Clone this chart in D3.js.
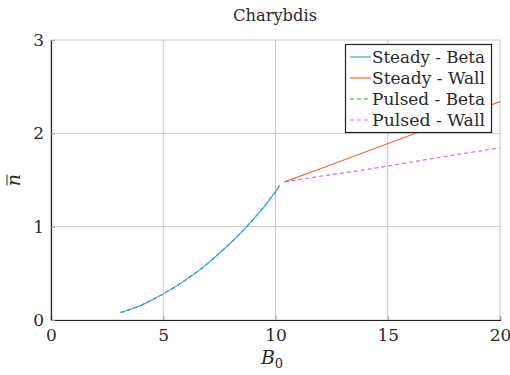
<!DOCTYPE html>
<html><head><meta charset="utf-8">
<script src="https://cdn.jsdelivr.net/npm/d3@7"></script>
<style>body{margin:0;background:#fff;}</style>
</head><body><svg id="c" width="510" height="375"></svg>
<script>
const title = "Charybdis";
const xTicks = [0, 5, 10, 15, 20];
const yTicks = [0, 1, 2, 3];
const seriesNames = ["Steady - Beta", "Steady - Wall", "Pulsed - Beta", "Pulsed - Wall"];
const seriesColors = ["#35a6e0", "#e8673c", "#3a9a3a", "#cc6ee0"];
const seriesDashed = [false, false, true, true];
const betaB = [3.1, 3.5, 4, 4.5, 5, 5.5, 6, 6.5, 7, 7.5, 8, 8.5, 9, 9.5, 10, 10.1];
const betaN = [0.08, 0.11, 0.155, 0.215, 0.28, 0.35, 0.43, 0.515, 0.61, 0.715, 0.825, 0.945, 1.075, 1.215, 1.375, 1.41];
const pulsedBetaB = [3.1, 3.5, 4, 4.5, 5, 5.5, 6, 6.5, 7, 7.5, 8, 8.5, 9, 9.5, 10, 10.1, 10.25];
const pulsedBetaN = [0.08, 0.11, 0.155, 0.215, 0.28, 0.35, 0.43, 0.515, 0.61, 0.715, 0.825, 0.945, 1.075, 1.215, 1.375, 1.41, 1.47];
const wallB = [10.4, 12, 14, 16, 18, 20];
const steadyWallN = [1.48, 1.62, 1.80, 1.98, 2.16, 2.34];
const pulsedWallN = [1.48, 1.54, 1.61, 1.69, 1.77, 1.845];

const FONT = "DejaVu Serif";
const svg = d3.select("#c");
const m = {l: 51, r: 500, t: 40, b: 320};
const x = d3.scaleLinear().domain([0, 20]).range([m.l, m.r]);
const y = d3.scaleLinear().domain([0, 3]).range([m.b, m.t]);

// grid
const g = svg.append("g");
g.selectAll(".gx").data(xTicks).join("line")
  .attr("x1", d => x(d)).attr("x2", d => x(d)).attr("y1", m.t).attr("y2", m.b)
  .attr("stroke", "#c8c8c8").attr("stroke-width", 1);
g.selectAll(".gy").data(yTicks).join("line")
  .attr("y1", d => y(d)).attr("y2", d => y(d)).attr("x1", m.l).attr("x2", m.r)
  .attr("stroke", "#c8c8c8").attr("stroke-width", 1);

// axes
const xa = svg.append("g").attr("transform", `translate(0,${m.b})`)
  .call(d3.axisBottom(x).tickValues(xTicks).tickSize(-4).tickPadding(8).tickFormat(d3.format("d")));
const ya = svg.append("g").attr("transform", `translate(${m.l},0)`)
  .call(d3.axisLeft(y).tickValues(yTicks).tickSize(-4).tickPadding(7).tickFormat(d3.format("d")));
[xa, ya].forEach(a => {
  a.attr("font-family", FONT).attr("font-size", 17);
  a.select(".domain").attr("stroke", "#222").attr("stroke-width", 1.2);
  a.selectAll(".tick line").attr("stroke", "#999");
  a.selectAll("text").attr("fill", "#2a2a2a");
});
xa.selectAll("text").attr("dy", "0.75em");

// lines
const line = d3.line().x(d => x(d[0])).y(d => y(d[1]));
const seriesData = [
  d3.zip(betaB, betaN),
  d3.zip(wallB, steadyWallN),
  d3.zip(pulsedBetaB, pulsedBetaN),
  d3.zip(wallB, pulsedWallN)
];
svg.append("clipPath").attr("id", "clp").append("rect")
  .attr("x", m.l).attr("y", m.t).attr("width", m.r - m.l).attr("height", m.b - m.t);
const drawOrder = [2, 3, 1, 0];
const widths = [1.1, 1.2, 1.3, 1.2];
drawOrder.forEach(i => {
  svg.append("path").datum(seriesData[i]).attr("d", line).attr("fill", "none")
    .attr("clip-path", "url(#clp)")
    .attr("stroke", seriesColors[i]).attr("stroke-width", widths[i])
    .attr("stroke-dasharray", seriesDashed[i] ? "4,3" : null);
});

// legend
const lg = svg.append("g");
lg.append("rect").attr("x", 345.5).attr("y", 44.5).attr("width", 146).attr("height", 88)
  .attr("fill", "#fff").attr("stroke", "#222").attr("stroke-width", 1.2);
seriesNames.forEach((name, i) => {
  const yy = 57 + i * 21;
  lg.append("line").attr("x1", 350).attr("x2", 371).attr("y1", yy).attr("y2", yy)
    .attr("stroke", seriesColors[i]).attr("stroke-width", 1.2)
    .attr("stroke-dasharray", seriesDashed[i] ? "4,3" : null);
  lg.append("text").attr("x", 372).attr("y", yy).attr("dy", "0.35em")
    .attr("font-family", FONT).attr("font-size", 17).attr("fill", "#2a2a2a")
    .attr("textLength", 113).attr("lengthAdjust", "spacingAndGlyphs").text(name);
});

// title & labels
svg.append("text").attr("x", 275).attr("y", 21).attr("text-anchor", "middle")
  .attr("font-family", FONT).attr("font-size", 16).attr("fill", "#2a2a2a")
  .attr("textLength", 84).attr("lengthAdjust", "spacingAndGlyphs").text(title);
svg.append("text").attr("x", 272).attr("y", 364).attr("text-anchor", "middle")
  .attr("font-family", FONT).attr("font-size", 19).attr("font-style", "italic").attr("fill", "#2a2a2a")
  .html('B<tspan dy="4" font-size="13" font-style="normal">0</tspan>');
const yl = svg.append("g").attr("transform", "translate(20,180) rotate(-90)");
yl.append("text").attr("x", 0).attr("y", 0).attr("text-anchor", "middle")
  .attr("font-family", FONT).attr("font-size", 19).attr("font-style", "italic").attr("fill", "#2a2a2a")
  .text("n");
yl.append("line").attr("x1", -5.5).attr("x2", 5.5).attr("y1", -13).attr("y2", -13)
  .attr("stroke", "#2a2a2a").attr("stroke-width", 1);
</script></body></html>
